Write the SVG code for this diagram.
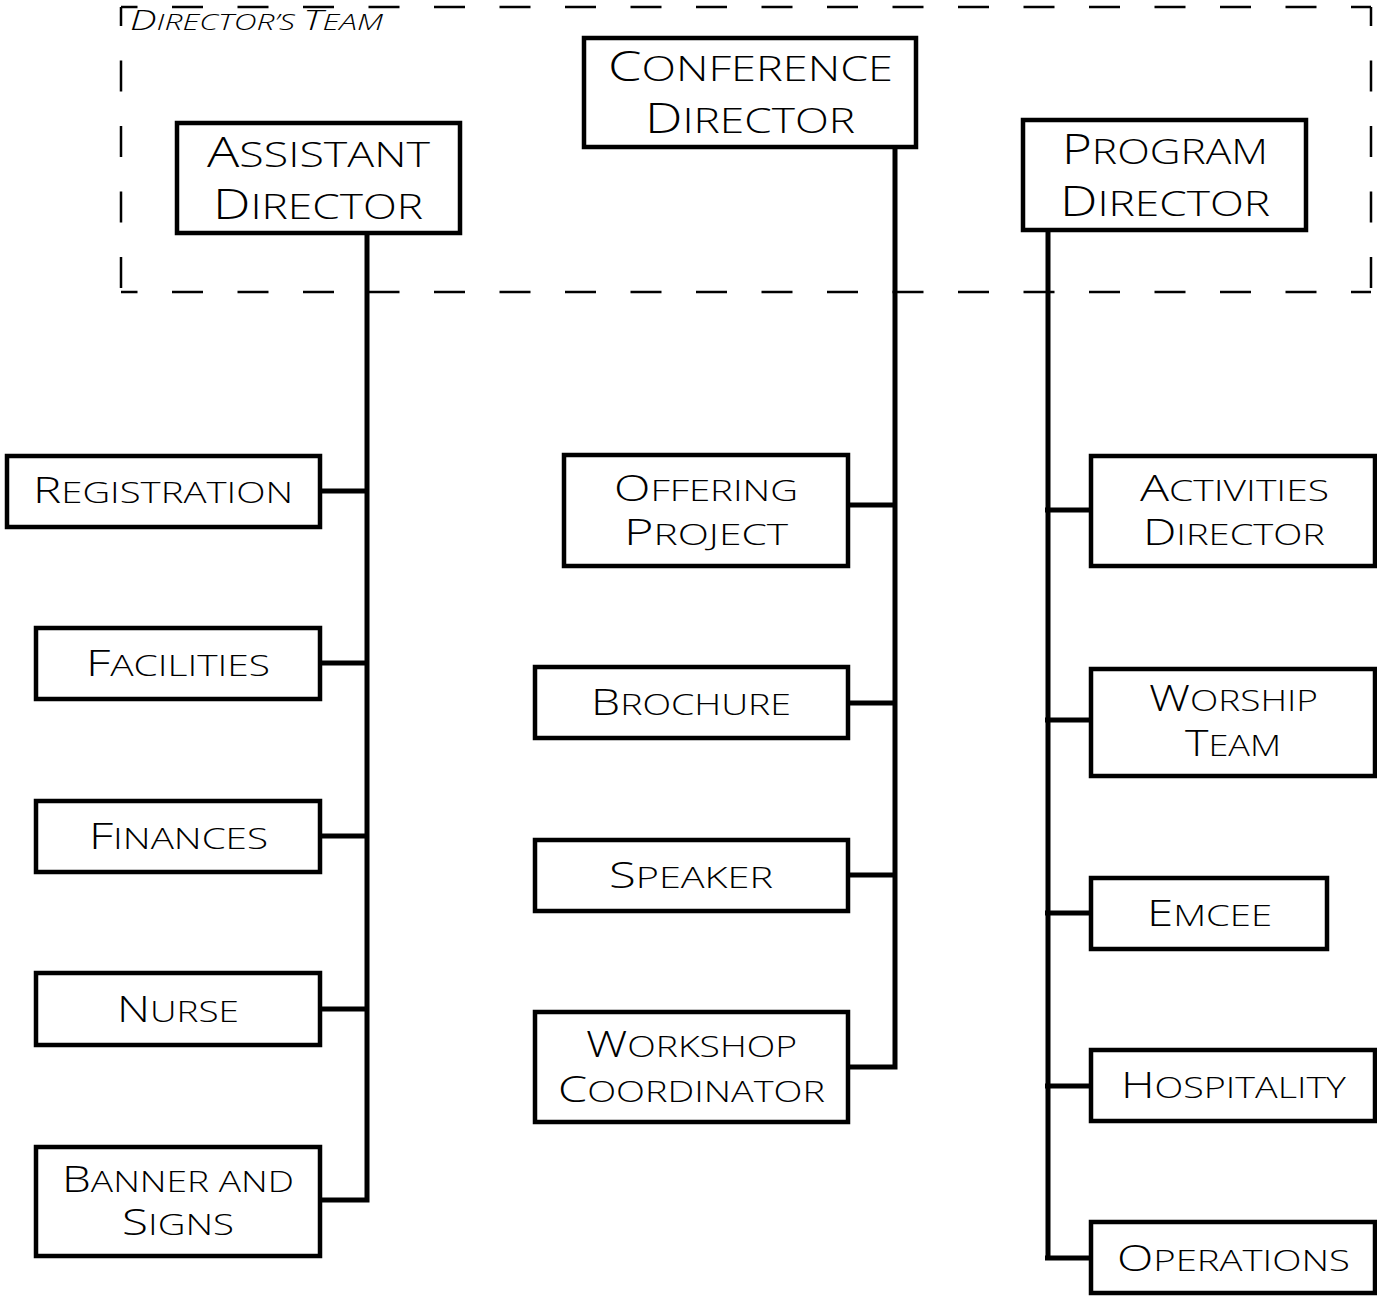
<svg xmlns="http://www.w3.org/2000/svg" width="1377" height="1297" viewBox="0 0 1377 1297">
<style>
.box{fill:#fff;stroke:#000;stroke-width:4.5}
text{font-family:"Open Sans","Liberation Sans",Arial,sans-serif;font-weight:300;fill:#000;text-transform:uppercase}
.t{font-size:29px}
.t .c{font-size:36px}
.tb{font-size:35px}
.tb .c{font-size:42px}
.lbl{font-style:italic;font-size:22.5px}
.lbl .c{font-size:28px}
.con{fill:none;stroke:#000;stroke-width:5}
.dash{fill:none;stroke:#000;stroke-width:2.5;stroke-dasharray:31 34.5}
</style>
<g id="team-boundary">
<path class="dash" d="M121,7 H1371" stroke-dashoffset="14.5"/>
<path class="dash" d="M121,7 V292" stroke-dashoffset="12"/>
<path class="dash" d="M121,292 H1371" stroke-dashoffset="14.5"/>
<path class="dash" d="M1371,7 V292" stroke-dashoffset="12"/>
<text class="lbl" x="130" y="30" textLength="253" lengthAdjust="spacingAndGlyphs"><tspan class="c">D</tspan>irector’s <tspan class="c">T</tspan>eam</text>
</g>
<g id="connectors">
<path class="con" d="M367,233 V1200 H320 M320,491 H367 M320,663 H367 M320,836 H367 M320,1009 H367"/>
<path class="con" d="M895,147 V1067 H848 M848,505 H895 M848,703 H895 M848,875 H895"/>
<path class="con" d="M1048,230 V1258 H1091 M1045,510 H1091 M1045,720 H1091 M1045,913 H1091 M1045,1086 H1091 M1045,1258 H1048"/>
</g>
<g id="conference-director">
<rect class="box" x="584" y="38" width="332" height="109"/>
<text class="tb"><tspan x="608" y="81" textLength="285" lengthAdjust="spacingAndGlyphs"><tspan class="c">C</tspan>onference</tspan><tspan x="645" y="133" textLength="210" lengthAdjust="spacingAndGlyphs"><tspan class="c">D</tspan>irector</tspan></text>
</g>
<g id="assistant-director">
<rect class="box" x="177" y="123" width="283" height="110"/>
<text class="tb"><tspan x="207" y="167" textLength="223" lengthAdjust="spacingAndGlyphs"><tspan class="c">A</tspan>ssistant</tspan><tspan x="213" y="219" textLength="210" lengthAdjust="spacingAndGlyphs"><tspan class="c">D</tspan>irector</tspan></text>
</g>
<g id="program-director">
<rect class="box" x="1023" y="120" width="283" height="110"/>
<text class="tb"><tspan x="1062" y="164" textLength="206" lengthAdjust="spacingAndGlyphs"><tspan class="c">P</tspan>rogram</tspan><tspan x="1060" y="216" textLength="210" lengthAdjust="spacingAndGlyphs"><tspan class="c">D</tspan>irector</tspan></text>
</g>
<g id="registration">
<rect class="box" x="7" y="456" width="313" height="71"/>
<text class="t" x="33" y="503" textLength="260" lengthAdjust="spacingAndGlyphs"><tspan class="c">R</tspan>egistration</text>
</g>
<g id="facilities">
<rect class="box" x="36" y="628" width="284" height="71"/>
<text class="t" x="86" y="676" textLength="184" lengthAdjust="spacingAndGlyphs"><tspan class="c">F</tspan>acilities</text>
</g>
<g id="finances">
<rect class="box" x="36" y="801" width="284" height="71"/>
<text class="t" x="89" y="849" textLength="179" lengthAdjust="spacingAndGlyphs"><tspan class="c">F</tspan>inances</text>
</g>
<g id="nurse">
<rect class="box" x="36" y="973" width="284" height="72"/>
<text class="t" x="117" y="1022" textLength="122" lengthAdjust="spacingAndGlyphs"><tspan class="c">N</tspan>urse</text>
</g>
<g id="banner-and-signs">
<rect class="box" x="36" y="1147" width="284" height="109"/>
<text class="t"><tspan x="62" y="1192" textLength="232" lengthAdjust="spacingAndGlyphs"><tspan class="c">B</tspan>anner and</tspan><tspan x="122" y="1235" textLength="112" lengthAdjust="spacingAndGlyphs"><tspan class="c">S</tspan>igns</tspan></text>
</g>
<g id="offering-project">
<rect class="box" x="564" y="455" width="284" height="111"/>
<text class="t"><tspan x="614" y="501" textLength="184" lengthAdjust="spacingAndGlyphs"><tspan class="c">O</tspan>ffering</tspan><tspan x="624" y="545" textLength="164" lengthAdjust="spacingAndGlyphs"><tspan class="c">P</tspan>roject</tspan></text>
</g>
<g id="brochure">
<rect class="box" x="535" y="667" width="313" height="71"/>
<text class="t" x="591" y="715" textLength="200" lengthAdjust="spacingAndGlyphs"><tspan class="c">B</tspan>rochure</text>
</g>
<g id="speaker">
<rect class="box" x="535" y="840" width="313" height="71"/>
<text class="t" x="609" y="888" textLength="164" lengthAdjust="spacingAndGlyphs"><tspan class="c">S</tspan>peaker</text>
</g>
<g id="workshop-coordinator">
<rect class="box" x="535" y="1012" width="313" height="110"/>
<text class="t"><tspan x="586" y="1057" textLength="211" lengthAdjust="spacingAndGlyphs"><tspan class="c">W</tspan>orkshop</tspan><tspan x="558" y="1102" textLength="267" lengthAdjust="spacingAndGlyphs"><tspan class="c">C</tspan>oordinator</tspan></text>
</g>
<g id="activities-director">
<rect class="box" x="1091" y="456" width="284" height="110"/>
<text class="t"><tspan x="1140" y="501" textLength="189" lengthAdjust="spacingAndGlyphs"><tspan class="c">A</tspan>ctivities</tspan><tspan x="1143" y="545" textLength="182" lengthAdjust="spacingAndGlyphs"><tspan class="c">D</tspan>irector</tspan></text>
</g>
<g id="worship-team">
<rect class="box" x="1091" y="669" width="284" height="107"/>
<text class="t"><tspan x="1149" y="711" textLength="169" lengthAdjust="spacingAndGlyphs"><tspan class="c">W</tspan>orship</tspan><tspan x="1185" y="756" textLength="96" lengthAdjust="spacingAndGlyphs"><tspan class="c">T</tspan>eam</tspan></text>
</g>
<g id="emcee">
<rect class="box" x="1091" y="878" width="236" height="71"/>
<text class="t" x="1147" y="926" textLength="125" lengthAdjust="spacingAndGlyphs"><tspan class="c">E</tspan>mcee</text>
</g>
<g id="hospitality">
<rect class="box" x="1091" y="1050" width="284" height="71"/>
<text class="t" x="1121" y="1098" textLength="225" lengthAdjust="spacingAndGlyphs"><tspan class="c">H</tspan>ospitality</text>
</g>
<g id="operations">
<rect class="box" x="1091" y="1222" width="284" height="71"/>
<text class="t" x="1117" y="1271" textLength="233" lengthAdjust="spacingAndGlyphs"><tspan class="c">O</tspan>perations</text>
</g>
</svg>
